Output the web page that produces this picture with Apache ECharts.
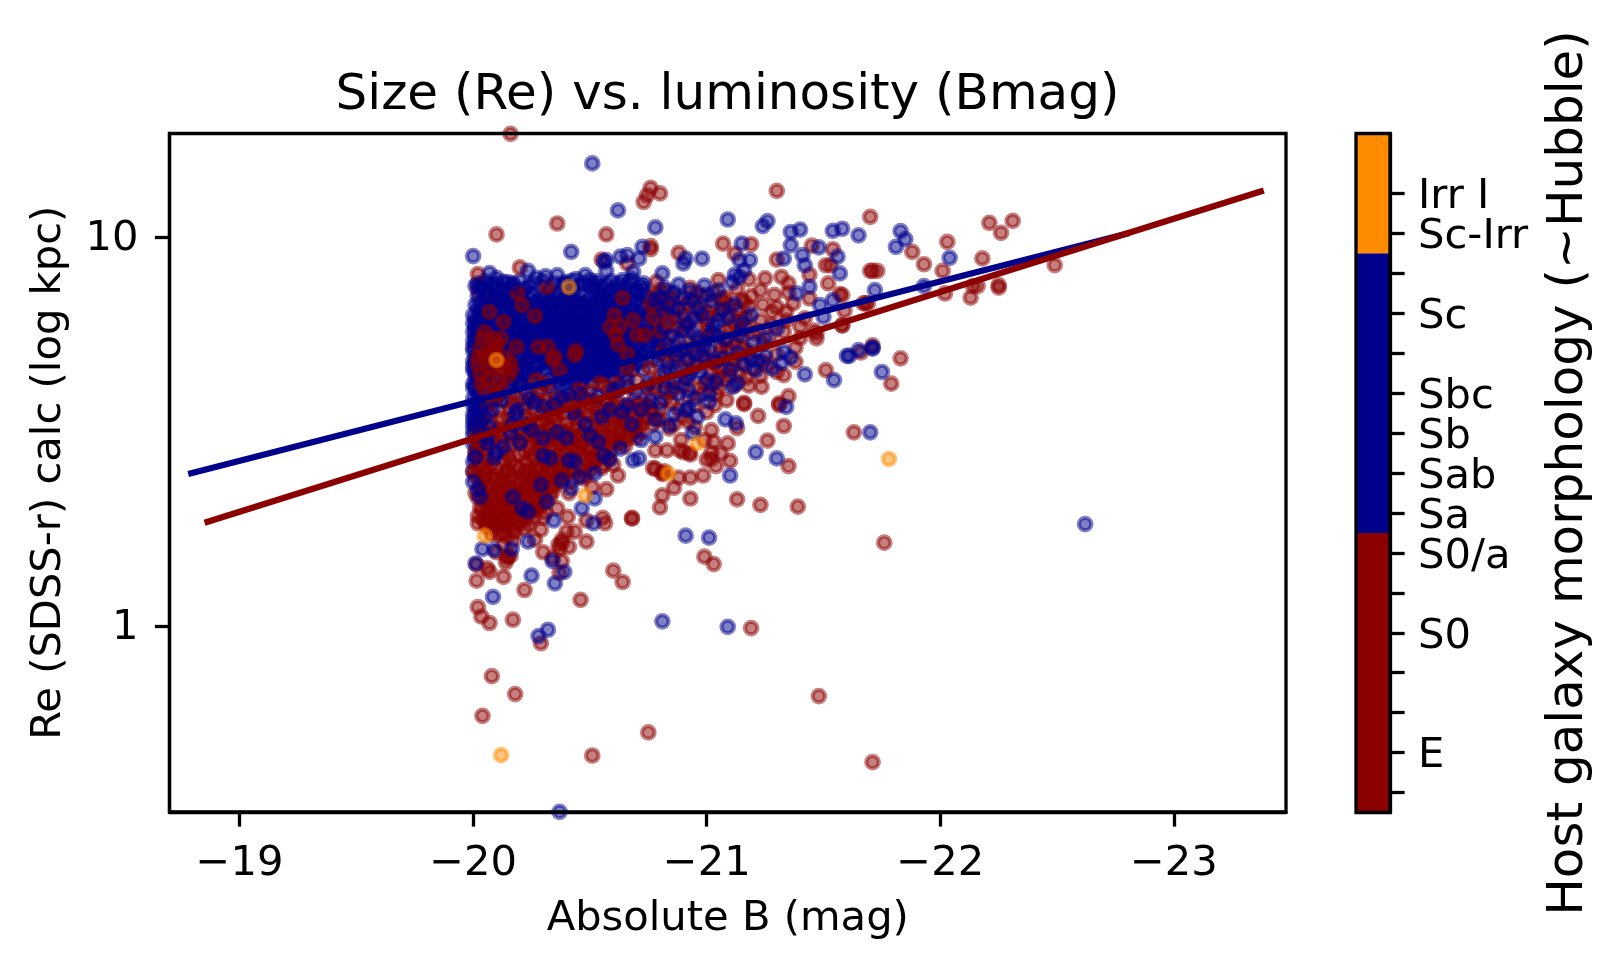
<!DOCTYPE html>
<html><head><meta charset="utf-8">
<style>html,body{margin:0;padding:0;background:#fff}#c{width:1622px;height:968px}</style>
<script src="https://cdn.jsdelivr.net/npm/echarts@6/dist/echarts.min.js"></script>
</head><body><div id="c"></div>
<script>
// [absolute B mag, Re kpc]
const redBase=[[-20.02,7.3],[-20.1,6.9],[-20.2,7.2],[-20.3,6.7],[-20.42,6.9],[-20.55,6.6],[-20.05,6.2],[-20.16,6.0],[-20.28,5.9],[-20.38,5.6],[-20.5,5.9],[-20.62,5.5],[-20.04,5.3],[-20.12,5.1],[-20.24,4.9],[-20.44,4.7],[-20.58,4.8],[-20.68,4.9],[-20.02,4.4],[-20.09,4.3],[-20.2,4.2],[-20.33,4.1],[-20.47,4.2],[-20.6,4.3]];
const blueCore=[[-20.03,7.4],[-20.08,7.55],[-20.12,7.3],[-20.17,7.5],[-20.22,7.35],[-20.26,7.6],[-20.33,7.4],[-20.39,7.55],[-20.43,7.3],[-20.47,7.6],[-20.55,7.45],[-20.6,7.35],[-20.66,7.5],[-20.7,7.3],
[-20.06,6.9],[-20.11,7.0],[-20.15,6.85],[-20.24,6.95],[-20.29,7.05],[-20.35,6.9],[-20.41,7.0],[-20.45,6.85],[-20.5,7.05],[-20.54,6.9],[-20.58,7.0],[-20.63,6.8],[-20.68,6.95],[-20.74,7.05],
[-20.02,6.5],[-20.09,6.6],[-20.13,6.4],[-20.18,6.55],[-20.23,6.45],[-20.27,6.6],[-20.32,6.42],[-20.37,6.58],[-20.41,6.4],[-20.46,6.55],[-20.51,6.42],[-20.56,6.6],[-20.6,6.45],[-20.65,6.55],[-20.71,6.4],[-20.76,6.5],
[-20.01,6.15],[-20.05,6.0],[-20.1,6.2],[-20.15,6.05],[-20.2,6.18],[-20.25,6.02],[-20.3,6.2],[-20.34,6.05],[-20.39,6.16],[-20.43,6.0],[-20.48,6.2],[-20.53,6.05],[-20.57,6.15],[-20.62,6.0],[-20.66,6.18],[-20.72,6.05],[-20.78,6.15],
[-20.02,5.7],[-20.07,5.8],[-20.12,5.65],[-20.17,5.78],[-20.22,5.62],[-20.27,5.8],[-20.31,5.68],[-20.36,5.82],[-20.4,5.65],[-20.45,5.78],[-20.49,5.62],[-20.54,5.8],[-20.59,5.66],[-20.64,5.78],[-20.69,5.62],[-20.75,5.75],[-20.8,5.6],
[-20.01,5.35],[-20.06,5.45],[-20.14,5.3],[-20.2,5.42],[-20.25,5.32],[-20.3,5.46],[-20.35,5.3],[-20.39,5.44],[-20.44,5.3],[-20.48,5.45],[-20.53,5.32],[-20.57,5.46],[-20.61,5.3],[-20.66,5.44],[-20.7,5.3],[-20.77,5.4],[-20.83,5.3],
[-20.02,5.0],[-20.08,5.12],[-20.14,5.0],[-20.21,5.08],[-20.26,4.96],[-20.31,5.1],[-20.37,5.0],[-20.41,5.12],[-20.46,4.98],[-20.5,5.1],[-20.54,4.96],[-20.59,5.08],[-20.63,4.95],[-20.67,5.1],[-20.72,4.98],[-20.78,5.05],
[-20.0,4.65],[-20.05,4.75],[-20.18,4.62],[-20.23,4.76],[-20.27,4.64],[-20.33,4.78],[-20.38,4.66],[-20.43,4.8],[-20.47,4.64],[-20.52,4.76],[-20.56,4.62],[-20.61,4.74],[-20.66,4.62],[-20.7,4.72],
[-20.01,4.35],[-20.06,4.45],[-20.13,4.32],[-20.19,4.46],[-20.24,4.36],[-20.29,4.48],[-20.35,4.34],[-20.39,4.46],[-20.45,4.36],[-20.5,4.48],[-20.54,4.38],
[-20.02,4.0],[-20.07,4.1],[-20.12,3.96],[-20.16,4.12],[-20.23,3.98],[-20.29,4.08],[-20.35,3.95],[-20.4,4.1],[-20.01,3.7],[-20.0,3.4],[-20.03,3.55],[-20.0,3.1],[-20.02,2.9],[-20.01,2.72],[-20.03,3.25],[-20.0,2.5],[-20.01,5.9],[-20.0,5.1],[-20.0,4.8],[-20.0,4.2],[-20.0,3.85]];
const blueCoreDense=[[-20.05,7.15],[-20.1,7.12],[-20.14,7.2],[-20.2,7.1],[-20.25,7.18],[-20.31,7.12],[-20.36,7.2],[-20.4,7.14],[-20.46,7.18],[-20.52,7.1],[-20.57,7.16],[-20.62,7.1],[-20.7,7.14],
[-20.03,6.75],[-20.08,6.72],[-20.13,6.78],[-20.18,6.7],[-20.22,6.76],[-20.27,6.8],[-20.33,6.72],[-20.38,6.78],[-20.43,6.7],[-20.48,6.75],[-20.52,6.8],[-20.56,6.72],[-20.61,6.76],[-20.66,6.7],[-20.72,6.76],
[-20.04,6.32],[-20.07,6.28],[-20.12,6.34],[-20.16,6.26],[-20.21,6.32],[-20.26,6.28],[-20.31,6.36],[-20.35,6.28],[-20.4,6.34],[-20.44,6.26],[-20.49,6.32],[-20.54,6.28],[-20.59,6.34],[-20.63,6.26],[-20.68,6.32],[-20.74,6.26],
[-20.03,5.88],[-20.08,5.94],[-20.13,5.9],[-20.18,5.86],[-20.23,5.92],[-20.28,5.88],[-20.32,5.94],[-20.37,5.86],[-20.42,5.9],[-20.46,5.96],[-20.51,5.86],[-20.55,5.92],[-20.6,5.86],[-20.65,5.94],[-20.7,5.86],[-20.77,5.9],
[-20.01,5.55],[-20.05,5.52],[-20.15,5.55],[-20.19,5.5],[-20.24,5.56],[-20.29,5.5],[-20.33,5.56],[-20.38,5.48],[-20.43,5.55],[-20.47,5.5],[-20.52,5.56],[-20.56,5.48],[-20.61,5.54],[-20.66,5.48],[-20.71,5.56],[-20.78,5.5],
[-20.03,5.2],[-20.08,5.25],[-20.12,5.18],[-20.17,5.22],[-20.22,5.16],[-20.27,5.22],[-20.32,5.16],[-20.36,5.22],[-20.41,5.16],[-20.46,5.22],[-20.51,5.18],[-20.55,5.24],[-20.6,5.16],[-20.65,5.22],[-20.7,5.16],
[-20.01,4.9],[-20.05,4.85],[-20.19,4.88],[-20.23,4.85],[-20.28,4.9],[-20.32,4.84],[-20.37,4.88],[-20.42,4.84],[-20.46,4.88],[-20.51,4.84],[-20.55,4.88],[-20.6,4.84],[-20.65,4.86],
[-20.03,4.55],[-20.16,4.52],[-20.21,4.58],[-20.26,4.52],[-20.31,4.58],[-20.36,4.54],[-20.41,4.58],[-20.45,4.52],[-20.5,4.58],[-20.55,4.52],[-20.6,4.56],
[-20.04,4.22],[-20.14,4.24],[-20.19,4.2],[-20.25,4.25],[-20.3,4.22],[-20.36,4.25],[-20.41,4.22],[-20.46,4.26],[-20.51,4.22],
[-20.3,6.5],[-20.34,6.65],[-20.38,6.45],[-20.42,6.62],[-20.44,6.12],[-20.4,5.95],[-20.36,6.12],[-20.32,5.75],[-20.36,5.62],[-20.41,5.78],[-20.44,5.6],[-20.47,5.7],[-20.5,5.52],[-20.42,5.42],[-20.38,5.26],[-20.43,5.2],[-20.47,5.08],[-20.44,4.95],[-20.4,4.92],[-20.38,4.78],[-20.42,4.7],[-20.46,4.74],[-20.48,4.9],[-20.52,5.0],[-20.5,5.28],[-20.54,5.14],[-20.56,5.4],[-20.52,5.66],[-20.48,6.02],[-20.53,6.5],[-20.49,6.65],[-20.44,6.8],[-20.36,7.0],[-20.3,6.9],[-20.26,6.7],[-20.24,6.22],[-20.28,6.08],[-20.26,5.68],[-20.24,5.44],[-20.28,5.32],[-20.26,5.06],[-20.3,4.98],[-20.28,4.68],[-20.35,4.56],[-20.4,4.38],[-20.44,4.52],[-20.48,4.4],
[-20.05,7.7],[-20.1,7.6],[-20.15,7.65],[-20.2,7.7],[-20.24,7.5],[-20.3,7.7],[-20.35,7.6],[-20.42,7.72],[-20.45,7.48],[-20.5,7.5],[-20.53,7.7],[-20.57,7.55],[-20.62,7.6],[-20.67,7.7],[-20.72,7.5],
[-20.22,6.62],[-20.25,6.35],[-20.29,6.55],[-20.33,6.25],[-20.37,6.38],[-20.41,6.22],[-20.45,6.45],[-20.47,6.12],[-20.51,6.25],[-20.54,6.15],[-20.57,6.42],[-20.5,6.58],[-20.46,6.7],[-20.39,6.85],[-20.33,6.82],[-20.22,6.1],[-20.26,5.95],[-20.3,5.82],[-20.34,5.96],[-20.38,5.72],[-20.42,5.56],[-20.46,5.85],[-20.5,5.72],[-20.53,5.6],[-20.56,5.72],[-20.58,5.95],[-20.22,5.72],[-20.26,5.55],[-20.3,5.6],[-20.34,5.44],[-20.38,5.38],[-20.41,5.32],[-20.46,5.36],[-20.49,5.4],[-20.53,5.44],[-20.58,5.3],[-20.23,5.25],[-20.29,5.15],[-20.33,5.06],[-20.36,5.12],[-20.39,5.02],[-20.43,5.06],[-20.45,4.9],[-20.49,5.02],[-20.53,4.9],[-20.57,5.02],[-20.31,4.8],[-20.35,4.72],[-20.39,4.7],[-20.44,4.62],[-20.48,4.7],[-20.5,4.82],[-20.54,4.7],[-20.59,4.66],[-20.42,4.45],[-20.47,4.5],[-20.52,4.42],[-20.56,4.42],[-20.38,4.32],[-20.43,4.28]];
const blueLeft=[[-20.02,7.6],[-20.06,7.3],[-20.1,7.4],[-20.15,7.35],[-20.19,7.3],[-20.02,7.05],[-20.07,7.1],[-20.12,6.95],[-20.17,7.0],[-20.21,6.9],[-20.01,6.7],[-20.05,6.62],[-20.1,6.78],[-20.15,6.62],[-20.19,6.8],[-20.03,6.4],[-20.08,6.45],[-20.14,6.5],[-20.19,6.42],[-20.02,6.05],[-20.06,6.12],[-20.11,6.08],[-20.17,6.15],[-20.21,6.02],[-20.01,5.78],[-20.05,5.85],[-20.09,5.72],[-20.14,5.78],[-20.19,5.7],[-20.03,5.62],[-20.08,5.58],[-20.13,5.62],[-20.17,5.6],[-20.21,5.55],[-20.0,5.42],[-20.04,5.4],[-20.09,5.38],[-20.16,5.4],[-20.2,5.3],[-20.0,5.22],[-20.06,5.15],[-20.11,5.05],[-20.16,5.1],[-20.19,5.18],[-20.03,4.98],[-20.07,4.95],[-20.16,4.95],[-20.2,4.95],[-20.01,4.75],[-20.06,4.62],[-20.17,4.75],[-20.22,4.68],[-20.01,4.5],[-20.07,4.52],[-20.18,4.35],[-20.23,4.5],[-20.03,4.3],[-20.08,4.2],[-20.15,4.15],[-20.21,4.3],[-20.01,4.1],[-20.05,3.92],[-20.1,3.86],[-20.18,3.95],[-20.02,3.85],[-20.06,3.78],[-20.02,3.62],[-20.0,3.5],[-20.03,3.42],[-20.01,3.3],[-20.0,3.2],[-20.02,3.05],[-20.0,2.95],[-20.01,2.82],[-20.0,2.65],[-20.0,6.0],[-20.0,6.3],[-20.0,5.7],[-20.0,4.55],[-20.0,4.1],[-20.0,3.7]];
const blueMidRight=[[-20.52,7.35],[-20.58,7.25],[-20.63,7.4],[-20.68,7.2],[-20.73,7.35],[-20.55,7.0],[-20.6,6.9],[-20.65,7.05],[-20.7,6.85],[-20.76,6.95],[-20.58,6.6],[-20.63,6.65],[-20.68,6.5],[-20.73,6.6],[-20.79,6.7],[-20.56,6.38],[-20.61,6.2],[-20.65,6.35],[-20.7,6.2],[-20.76,6.32],[-20.8,6.4],[-20.55,6.02],[-20.6,6.08],[-20.64,5.95],[-20.68,6.08],[-20.74,5.95],[-20.79,6.0],[-20.58,5.78],[-20.62,5.7],[-20.67,5.85],[-20.72,5.7],[-20.77,5.65],[-20.81,5.78],[-20.55,5.6],[-20.6,5.5],[-20.64,5.6],[-20.69,5.45],[-20.74,5.55],[-20.79,5.4],[-20.56,5.3],[-20.62,5.15],[-20.67,5.3],[-20.72,5.2],[-20.76,5.25],[-20.8,5.15],[-20.56,5.1],[-20.61,4.98],[-20.65,5.05],[-20.69,4.9],[-20.74,5.08],[-20.77,4.85],[-20.56,4.8],[-20.62,4.85],[-20.67,4.78],[-20.72,4.8],[-20.58,4.55],[-20.63,4.5],[-20.68,4.55],[-20.73,4.55],[-20.6,4.38],[-20.65,4.4]];
const redMain=[[-20.0,2.5],[-20.03,2.4],[-20.07,2.52],[-20.1,2.35],[-20.14,2.48],[-20.18,2.36],[-20.22,2.5],[-20.01,2.2],[-20.05,2.26],[-20.08,2.12],[-20.12,2.24],[-20.15,2.1],[-20.19,2.22],[-20.23,2.08],[-20.26,2.2],[-20.29,2.35],[-20.03,2.02],[-20.07,1.94],[-20.11,2.04],[-20.14,1.92],[-20.18,2.0],[-20.21,1.9],[-20.25,1.98],[-20.28,2.04],[-20.05,1.84],[-20.09,1.78],[-20.13,1.86],[-20.17,1.76],[-20.2,1.84],[-20.02,1.92],[-20.24,1.82],[-20.11,1.72],[-20.06,2.3],[-20.1,2.2],[-20.16,2.28],[-20.13,2.0],[-20.08,2.0],
[-20.01,3.0],[-20.05,2.85],[-20.09,3.02],[-20.14,2.82],[-20.18,3.05],[-20.22,2.8],[-20.27,3.02],[-20.31,2.78],[-20.35,3.0],[-20.39,2.8],[-20.44,3.02],[-20.48,2.82],[-20.52,3.05],[-20.56,2.85],[-20.6,3.05],[-20.65,2.9],[-20.03,2.65],[-20.08,2.6],[-20.13,2.68],[-20.18,2.58],[-20.23,2.66],[-20.27,2.56],[-20.32,2.62],[-20.36,2.56],[-20.4,2.62],[-20.45,2.58],[-20.5,2.62],[-20.55,2.55],[-20.6,2.6],[-20.35,2.3],[-20.41,2.2],[-20.47,2.4],[-20.33,2.15],[-20.39,2.42],
[-20.04,3.35],[-20.1,3.22],[-20.15,3.38],[-20.2,3.2],[-20.25,3.36],[-20.3,3.2],[-20.35,3.38],[-20.41,3.22],[-20.46,3.4],[-20.5,3.25],[-20.55,3.4],[-20.6,3.25],[-20.64,3.4],[-20.69,3.25],[-20.73,3.45],[-20.06,3.7],[-20.11,3.58],[-20.17,3.75],[-20.22,3.6],[-20.27,3.78],[-20.33,3.62],[-20.38,3.8],[-20.43,3.65],[-20.48,3.82],[-20.53,3.65],[-20.58,3.85],[-20.64,3.68],[-20.69,3.85],[-20.74,3.68],[-20.5,4.0],[-20.56,4.15],[-20.6,3.95],[-20.45,4.05],
[-20.62,2.44],[-20.68,1.89],[-20.77,2.55],[-20.57,2.25],[-20.51,2.28],[-20.565,1.84],[-20.555,1.9],[-20.485,1.65],[-20.41,1.6],[-20.435,1.75],[-20.4,1.75],[-20.405,1.91],[-20.485,1.87],[-20.36,2.01],[-20.3,1.9],[-20.29,1.77],[-20.265,1.67],[-20.365,1.62],[-20.38,1.67],[-20.15,1.51],[-20.145,1.7],[-20.02,1.84],[-20.06,1.41],[-20.37,1.58],[-20.38,1.64],[-20.3,1.55],[-20.34,1.5],[-20.13,1.62],[-20.1,1.55],[-20.17,1.66],[-20.14,1.46],[-20.16,1.52],
[-20.08,0.745],[-20.18,0.67],[-20.04,0.589],[-20.51,0.466],[-20.17,1.04],[-20.07,1.02],[-20.035,1.06],[-20.02,1.12],[-20.29,0.905],[-20.22,1.24],[-20.46,1.17],[-20.6,1.39],[-20.64,1.3],[-20.015,1.31],[-20.07,1.38],[-20.13,1.34],[-20.68,1.9],[-20.015,1.44],[-20.38,1.47],[-20.37,1.37],[-20.145,1.5],[-21.48,0.662],[-20.75,0.534],[-21.71,0.448],[-21.19,0.99],[-21.76,1.64],[-21.63,3.15],
[-21.22,3.47],[-21.33,3.27],[-21.26,3.0],[-21.35,2.58],[-21.13,2.12],[-21.23,2.05],[-21.39,2.03],[-20.93,2.13],[-20.81,2.17],[-20.8,2.02],[-20.99,1.51],[-21.03,1.445],[-21.13,3.23],[-21.09,2.95],[-21.1,2.66],[-21.04,2.58],[-20.985,2.44],[-20.93,2.41],[-20.88,2.41],[-20.86,2.27],[-20.81,2.48],[-20.78,2.54],[-21.02,3.19],[-20.99,3.01],[-21.03,2.98],[-21.06,2.78],[-21.02,2.79],[-21.0,2.68],[-21.02,2.69],[-20.925,2.79],[-20.89,3.01],[-20.885,2.83],[-20.83,2.83],[-20.78,2.83],[-20.84,3.22],[-20.92,3.35],[-21.16,3.72],[-21.035,3.7],[-21.085,3.81],[-21.31,3.7],[-20.81,2.46],[-20.82,2.5],[-20.9,2.8],[-20.93,2.76],
[-21.07,9.62],[-21.19,9.58],[-20.88,9.1],[-21.12,9.07],[-21.3,8.75],[-21.52,7.6],[-21.44,8.0],[-21.51,8.46],[-21.53,8.46],[-21.54,9.3],[-21.45,9.5],[-21.57,7.13],[-21.44,6.95],[-21.32,7.9],[-21.35,7.6],[-21.25,7.83],[-21.18,7.78],[-21.05,7.75],[-20.785,7.67],[-20.8,7.3],[-21.16,6.81],[-21.28,6.42],[-21.34,6.42],[-21.42,6.18],[-21.47,5.49],[-21.47,5.65],[-21.58,5.93],[-21.38,4.78],[-21.33,4.42],[-21.3,4.5],[-21.235,4.12],[-21.51,4.55],[-21.35,3.9],[-21.31,3.74],[-21.16,3.75],[-21.05,4.08],
[-21.7,11.26],[-22.03,9.71],[-21.88,9.16],[-21.93,8.51],[-22.01,8.18],[-22.18,8.81],[-22.21,10.87],[-22.26,10.25],[-22.31,11.0],[-22.49,8.47],[-22.13,6.99],[-22.14,7.48],[-22.16,7.48],[-22.25,7.52],[-22.25,7.41],[-22.02,7.16],[-21.71,8.18],[-21.73,8.18],[-21.7,8.18],[-21.68,6.75],[-21.67,6.75],[-21.69,6.75],[-21.59,6.46],[-21.58,5.93],[-21.58,7.09],[-21.83,4.88],[-21.79,4.2],[-21.66,5.05],[-21.71,5.27],
[-20.16,18.4],[-20.1,10.15],[-20.36,10.83],[-20.57,10.15],[-20.76,13.37],[-20.745,12.8],[-20.73,12.3],[-20.8,12.94],[-21.3,13.14],[-20.76,9.47],[-20.76,9.3],[-20.55,8.75],[-20.66,8.55],[-20.2,8.35],[-20.02,8.03],
[-20.83,6.6],[-20.9,6.3],[-20.95,6.8],[-21.0,6.15],[-21.06,6.45],[-21.1,5.85],[-21.17,6.2],[-21.22,5.75],[-21.24,5.3],[-20.87,5.85],[-20.94,5.25],[-21.0,5.55],[-21.06,5.2],[-21.12,5.3],[-21.18,5.1],[-20.81,5.0],[-20.86,4.8],[-20.93,4.65],[-20.99,4.8],[-21.05,4.62],[-21.11,4.65],[-21.17,4.35],[-21.23,4.4],[-20.8,4.4],[-20.84,4.25],[-20.9,4.15],[-20.97,4.1],[-21.04,3.95],[-21.1,4.4],[-20.76,3.95],[-20.8,3.6],[-20.85,3.75],[-20.9,3.45],[-20.76,3.55],[-20.72,3.3],[-20.66,3.15],[-20.62,3.4],[-20.7,3.05]];
const redLowerDense=[[-20.02,3.15],[-20.06,3.12],[-20.11,3.16],[-20.16,3.1],[-20.21,3.14],[-20.26,3.1],[-20.3,3.14],[-20.34,3.1],[-20.39,3.15],[-20.43,3.1],[-20.47,3.14],[-20.51,3.1],[-20.55,3.15],[-20.59,3.1],[-20.63,3.15],[-20.67,3.1],
[-20.03,2.95],[-20.07,2.92],[-20.12,2.96],[-20.16,2.92],[-20.2,2.95],[-20.24,2.9],[-20.29,2.94],[-20.33,2.9],[-20.37,2.94],[-20.42,2.9],[-20.46,2.94],[-20.5,2.9],[-20.54,2.95],[-20.58,2.9],[-20.63,2.95],
[-20.01,2.78],[-20.06,2.74],[-20.1,2.78],[-20.15,2.74],[-20.2,2.76],[-20.25,2.74],[-20.29,2.78],[-20.33,2.72],[-20.37,2.76],[-20.42,2.72],[-20.46,2.76],[-20.51,2.72],[-20.55,2.76],
[-20.02,2.56],[-20.05,2.5],[-20.1,2.55],[-20.15,2.52],[-20.2,2.56],[-20.24,2.52],[-20.29,2.54],[-20.34,2.5],[-20.38,2.54],[-20.43,2.5],[-20.48,2.52],
[-20.01,2.42],[-20.05,2.38],[-20.08,2.42],[-20.12,2.38],[-20.16,2.42],[-20.2,2.38],[-20.24,2.42],[-20.27,2.38],[-20.31,2.42],[-20.36,2.4],
[-20.03,2.3],[-20.08,2.28],[-20.12,2.3],[-20.15,2.26],[-20.19,2.3],[-20.22,2.26],[-20.25,2.3],[-20.29,2.24],[-20.33,2.28],
[-20.02,2.14],[-20.05,2.1],[-20.09,2.16],[-20.13,2.12],[-20.17,2.16],[-20.2,2.12],[-20.24,2.16],[-20.27,2.1],[-20.31,2.14],
[-20.04,2.0],[-20.06,2.05],[-20.1,1.98],[-20.12,2.06],[-20.16,2.0],[-20.19,2.06],[-20.22,2.0],[-20.26,2.04],
[-20.04,1.9],[-20.08,1.88],[-20.11,1.92],[-20.15,1.88],[-20.18,1.92],[-20.22,1.88],[-20.26,1.9],
[-20.06,1.8],[-20.1,1.82],[-20.14,1.8],[-20.18,1.82],[-20.22,1.78],
[-20.07,3.52],[-20.12,3.42],[-20.18,3.48],[-20.23,3.42],[-20.29,3.5],[-20.34,3.44],[-20.39,3.52],[-20.44,3.44],[-20.49,3.52],[-20.53,3.44],[-20.58,3.52],[-20.63,3.46],[-20.68,3.52],[-20.74,3.42],[-20.79,3.38],
[-20.08,3.85],[-20.14,3.8],[-20.2,3.85],[-20.25,3.88],[-20.31,3.8],[-20.36,3.86],[-20.42,3.8],[-20.47,3.9],[-20.52,3.8],[-20.57,3.72],[-20.62,3.78],[-20.67,3.6],[-20.71,3.72],
[-20.54,4.2],[-20.58,4.05],[-20.62,4.2],[-20.66,4.12],[-20.7,4.28],[-20.74,4.1],[-20.78,4.25],[-20.82,4.0],[-20.86,4.1],[-20.92,3.9],[-20.98,3.95],[-21.02,4.2],[-21.08,4.3],
[-20.04,3.06],[-20.12,3.08],[-20.2,3.02],[-20.28,3.08],[-20.37,3.06],[-20.46,3.08],[-20.55,3.05],[-20.62,3.02],[-20.06,2.68],[-20.16,2.64],[-20.26,2.68],[-20.34,2.66],[-20.43,2.68],[-20.52,2.66],[-20.58,2.7],[-20.05,2.46],[-20.13,2.45],[-20.22,2.44],[-20.3,2.46],[-20.4,2.46],[-20.04,2.2],[-20.11,2.12],[-20.17,2.24],[-20.22,2.18],[-20.28,2.26],[-20.06,1.96],[-20.14,1.96],[-20.2,1.96],[-20.24,1.95],[-20.12,1.84],[-20.16,1.84],[-20.08,1.84],[-20.32,3.3],[-20.4,3.32],[-20.24,3.28],[-20.16,3.3],[-20.08,3.3],[-20.48,3.3],[-20.56,3.3],[-20.65,3.3],[-20.16,3.62],[-20.26,3.64],[-20.36,3.62],[-20.46,3.6],[-20.56,3.6],[-20.1,3.94],[-20.28,3.95],[-20.44,3.92],
[-20.24,3.22],[-20.33,3.25],[-20.38,3.18],[-20.44,3.2],[-20.52,3.18],[-20.58,3.2],[-20.63,3.22],[-20.7,3.18],[-20.26,2.98],[-20.31,3.0],[-20.41,2.98],[-20.47,2.98],[-20.53,2.98],[-20.6,2.98],[-20.66,3.02],[-20.28,2.84],[-20.35,2.85],[-20.4,2.85],[-20.45,2.86],[-20.5,2.84],[-20.59,2.82],[-20.3,2.7],[-20.36,2.66],[-20.41,2.66],[-20.48,2.7],[-20.53,2.68],[-20.28,2.5],[-20.32,2.52],[-20.37,2.48],[-20.42,2.54],[-20.5,2.5],[-20.56,2.6],[-20.25,2.34],[-20.3,2.32],[-20.36,2.34],[-20.42,2.36],[-20.48,2.44],[-20.3,2.2],[-20.34,2.22],[-20.24,2.24],[-20.27,2.0],[-20.3,2.06],[-20.31,1.96],[-20.18,1.74],[-20.13,1.74],[-20.08,1.72],[-20.22,3.7],[-20.31,3.7],[-20.41,3.72],[-20.5,3.7],[-20.6,3.68],[-20.68,3.68],[-20.76,3.62],[-20.29,3.36],[-20.36,3.5],[-20.44,3.55],[-20.52,3.5],[-20.6,3.45],[-20.7,3.4],[-20.77,3.3]];
const redRight=[[-20.78,7.1],[-20.83,7.25],[-20.88,7.0],[-20.93,7.4],[-20.98,7.05],[-21.03,7.2],[-21.08,7.0],[-21.13,7.35],[-21.19,7.05],[-21.23,7.3],[-21.29,7.1],[-21.35,7.2],[-20.76,6.7],[-20.81,6.85],[-20.86,6.55],[-20.92,6.75],[-20.97,6.45],[-21.02,6.65],[-21.08,6.8],[-21.13,6.5],[-21.18,6.62],[-21.24,6.7],[-21.3,6.6],[-21.37,6.75],[-20.77,6.2],[-20.83,6.3],[-20.88,6.05],[-20.95,6.15],[-21.0,5.95],[-21.05,6.3],[-21.12,6.05],[-21.17,5.85],[-21.23,6.1],[-21.28,5.95],[-21.34,6.1],[-21.4,5.9],[-20.8,5.75],[-20.86,5.55],[-20.92,5.7],[-20.97,5.4],[-21.03,5.6],[-21.09,5.4],[-21.15,5.5],[-21.2,5.65],[-21.27,5.5],[-21.33,5.7],[-21.4,5.5],[-21.46,5.75],[-20.82,5.15],[-20.88,4.95],[-20.94,5.1],[-21.0,4.9],[-21.06,5.05],[-21.12,4.85],[-21.18,5.0],[-21.24,4.8],[-21.3,5.0],[-21.38,5.2],[-20.83,4.75],[-20.9,4.55],[-20.96,4.65],[-21.02,4.45],[-21.08,4.6],[-21.14,4.45],[-21.2,4.6],[-21.26,4.7],[-20.78,4.1],[-20.85,4.0],[-20.92,4.3],[-20.99,4.2],[-21.05,4.35],[-21.12,4.15],[-21.18,4.15],[-20.82,3.82],[-20.88,3.62],[-20.95,3.7],[-21.0,3.55],[-20.74,3.7],[-20.8,3.42],[-20.86,3.3],[-20.95,3.25],[-20.72,3.15],
[-20.85,6.95],[-20.96,7.2],[-21.06,6.95],[-21.1,6.65],[-21.15,6.9],[-20.9,6.55],[-21.0,6.4],[-21.1,6.3],[-21.15,6.15],[-20.91,5.9],[-21.0,5.75],[-21.08,5.75],[-21.14,5.75],[-20.9,5.2],[-20.99,5.2],[-21.09,5.15],[-21.15,5.2],[-20.92,4.85],[-21.03,4.75],[-21.15,4.75]];
const blueRight=[[-20.78,6.9],[-20.84,6.7],[-20.9,6.95],[-20.96,6.6],[-21.02,6.85],[-21.07,6.5],[-21.12,6.7],[-20.82,7.4],[-20.88,7.55],[-20.93,7.25],[-20.99,7.5],[-21.05,7.3],[-21.11,7.65],[-21.14,7.9],[-21.16,8.2],[-21.12,8.0],[-20.86,6.2],[-20.92,6.0],[-20.98,6.3],[-21.03,5.95],[-21.09,6.2],[-21.15,6.0],[-21.19,6.3],[-20.85,5.6],[-20.9,5.75],[-20.96,5.5],[-21.02,5.7],[-21.08,5.45],[-21.14,5.6],[-21.2,5.35],[-20.89,5.1],[-20.95,5.0],[-21.01,5.15],[-21.07,4.9],[-21.13,5.05],[-21.19,4.85],[-21.25,4.95],[-21.28,4.6],[-21.21,4.55],[-21.16,4.7],[-21.32,4.75],[-21.36,4.9],[-20.84,4.6],[-20.91,4.35],[-20.97,4.5],[-21.04,4.25],[-20.82,4.1],[-20.88,3.95],[-20.95,3.85],[-20.8,3.75],[-20.86,3.5],[-20.96,3.45],[-20.78,3.4],[-20.84,3.28],[-20.7,4.0],[-20.75,4.2],[-20.66,4.3],[-20.62,4.05],[-20.72,3.6],[-20.76,3.8],
[-20.8,7.0],[-20.86,7.2],[-20.94,6.9],[-21.0,7.1],[-20.82,6.4],[-20.88,6.55],[-20.94,6.2],[-21.05,6.1],[-20.82,5.85],[-20.88,5.4],[-20.94,5.7],[-20.99,5.35],[-21.05,5.55],[-20.83,5.15],[-20.87,4.95],[-20.92,4.85],[-20.98,4.95],[-21.04,4.8],[-20.79,4.8],[-20.82,4.5],[-20.87,4.55],[-20.93,4.45],[-20.86,4.25],[-20.92,4.05],[-21.0,4.3],[-21.1,4.55],[-21.22,4.8]];
const blueSpots=[[-20.03,3.66],[-20.18,3.53],[-20.3,3.66],[-20.2,2.96],[-20.43,3.53],[-20.585,3.6],[-20.09,2.71],[-20.01,2.72],[-20.13,2.89],[-20.41,2.67],[-20.515,1.84],[-20.345,1.87],[-20.465,2.01],[-20.52,2.13],[-20.42,2.26],[-20.38,2.37],[-20.29,2.31],[-20.315,2.09],[-20.21,2.01],[-20.235,1.97],[-20.235,1.65],[-20.09,1.57],[-20.04,1.58],[-20.165,1.58],[-20.03,2.15],[-20.17,2.15],[-20.52,2.47],[-20.455,2.42],[-20.435,2.65],[-20.585,2.68],[-20.685,2.67],[-20.71,2.7],[-20.72,3.01],[-20.63,2.86],[-20.535,2.98],[-20.25,3.2],[-20.36,3.15],[-20.07,3.25],[-20.17,3.3],[-20.48,3.3],[-20.55,3.45],[-20.64,3.55],[-20.12,3.8],[-20.24,3.85],[-20.38,3.9],[-20.46,3.95],[-20.53,3.9],[-20.6,4.05],[-20.3,2.75],[-20.56,2.75],[-20.03,3.15],[-20.06,2.95],[-20.0,2.35],[-20.02,2.25],[-20.0,3.3],[-20.01,3.55],[-20.3,3.05],[-20.66,3.7],[-20.68,3.3],[-20.5,3.1],
[-20.08,3.6],[-20.19,3.6],[-20.02,3.4],[-20.05,3.45],[-20.26,3.75],[-20.41,3.95],[-20.35,3.72],[-20.22,3.3],[-20.06,3.05],[-20.1,2.8],[-20.16,3.15],[-20.4,3.05],[-20.33,2.7]];
const redPatch=[[-20.315,7.45],[-20.21,6.68],[-20.265,6.26],[-20.19,7.18],[-20.605,6.3],[-20.64,6.97],[-20.735,5.6],[-20.28,5.22],[-20.32,5.22],[-20.35,4.92],[-20.435,4.97],[-20.37,4.55],[-20.085,5.49],[-20.165,4.55],[-20.185,5.22],[-20.03,5.17],[-20.13,6.05],[-20.07,6.42],[-20.035,4.2],[-20.27,4.29],[-20.755,4.6],[-20.585,5.87],[-20.685,6.12],[-20.835,6.05],[-20.05,5.7],[-20.1,5.2],[-20.12,5.5],[-20.06,4.9],[-20.09,4.6],[-20.14,4.9],[-20.11,4.25],[-20.05,4.05],[-20.15,4.4],[-20.02,4.7],[-20.62,5.3],[-20.61,5.6],[-20.63,5.9],[-20.66,5.0],[-20.31,4.2],[-20.34,4.85],[-20.44,5.1],[-20.66,4.6],[-20.7,5.6],[-20.09,5.0],[-20.11,4.75],[-20.13,4.55],[-20.07,4.6],[-20.1,5.35],[-20.05,5.0],[-20.03,4.45],[-20.12,4.1],[-20.16,4.75],[-20.04,5.5],[-20.08,5.1],[-20.02,4.9],[-20.13,4.7],[-20.06,4.3],[-20.1,3.95]];
const blueEdge=[[-20.01,7.5],[-20.07,8.08],[-20.13,7.67],[-20.235,8.18],[-20.31,7.93],[-20.36,7.98],[-20.48,7.98],[-20.52,7.6],[-20.57,8.18],[-20.64,7.75],[-20.73,7.6],[-20.685,8.13],[-20.0,8.93],[-20.42,9.16],[-20.725,9.43],[-20.57,8.72],[-20.63,8.9],[-20.66,8.98],[-20.71,8.8],[-20.56,8.63],[-20.04,7.55],[-20.1,7.85],[-20.17,7.6],[-20.27,7.85],[-20.39,7.65],[-20.44,7.8],[-20.5,7.75],[-20.59,7.7],[-20.68,7.8],
[-20.51,15.45],[-20.62,11.7],[-20.78,10.58],[-21.09,11.09],[-21.26,10.98],[-21.24,10.66],[-21.36,10.3],[-21.4,10.45],[-21.54,10.37],[-21.58,10.5],[-21.65,10.1],[-21.83,10.35],[-21.85,9.87],[-21.81,9.43],[-22.04,8.84],[-21.72,7.3],[-21.93,7.48],[-21.71,5.17],[-21.71,5.2],[-21.61,4.95],[-21.65,5.12],[-21.75,4.5],[-21.36,9.53],[-21.48,9.4],[-21.56,8.9],[-21.57,8.06],[-21.42,8.46],[-21.41,8.98],[-21.33,8.8],[-21.185,8.72],[-21.14,8.72],[-20.98,8.8],[-20.91,8.8],[-20.9,8.55],[-20.81,8.06],[-21.15,9.62],
[-21.385,7.16],[-21.44,7.45],[-21.485,6.68],[-21.54,6.88],[-21.5,6.24],[-21.6,4.95],[-21.42,4.44],[-21.545,4.29],[-21.25,5.49],[-21.33,5.07],[-21.3,5.82],[-21.13,4.22],[-21.11,4.12],[-21.01,3.96],[-20.92,3.63],
[-20.91,1.71],[-21.01,1.69],[-21.21,2.8],[-21.3,2.7],[-21.1,2.44],[-21.08,3.4],[-21.125,3.32],[-20.94,3.14],[-20.78,3.07],[-20.91,3.59],[-21.34,3.66],[-21.01,3.77],[-21.7,3.15],
[-22.62,1.83],[-21.09,0.997],[-20.81,1.03],[-20.37,0.334],[-20.32,0.98],[-20.28,0.944],[-20.085,1.19],[-20.25,1.35],[-20.35,1.29],[-20.39,1.38],[-20.34,1.47],[-20.01,1.45]];
const orangePts=[[-20.41,7.43],[-20.1,4.83],[-20.96,2.95],[-20.835,2.47],[-21.78,2.69],[-20.12,0.467],[-20.05,1.71],[-20.48,2.17]];
const blueFit=[[-18.78,2.463],[-22.81,10.24]];
const redFit=[[-18.85,1.845],[-23.385,13.16]];
const xTicks=[-19,-20,-21,-22,-23];
const yTicks=[1,10];
const hubbleTypes=[-5,-2,0,1,2,3,4,6,8,9];
const hubbleNames=['E','S0','S0/a','Sa','Sab','Sb','Sbc','Sc','Sc-Irr','Irr I'];
const hubbleTicks=[-6,-5,-4,-3,-2,-1,0,1,2,3,4,5,6,7,8,9,10];
const colorBands=[[-6.5,0.5,'#8b0000'],[0.5,7.5,'#00008b'],[7.5,10.5,'#ff8c00']];

const FONT='DejaVu Sans';
const RED='rgba(139,0,0,0.5)',BLUE='rgba(0,0,139,0.5)',ORG='rgba(255,140,0,0.5)';
function pts(data,col,z){return {type:'scatter',data:data,symbolSize:12.5,xAxisIndex:0,yAxisIndex:0,z:z,silent:true,clip:true,
 itemStyle:{color:col,borderColor:col,borderWidth:4.2,opacity:1},animation:false,large:false};}
function fit(data,col,z){return {type:'line',data:data,xAxisIndex:0,yAxisIndex:0,z:z,symbol:'none',silent:true,clip:true,
 lineStyle:{color:col,width:6.25,cap:'butt'},animation:false};}
const AXL={show:true,onZero:false,lineStyle:{color:'#000',width:3.3}};
const TICK=v=>({show:true,length:14.6,lineStyle:{color:'#000',width:3.3},customValues:v});
const chart=echarts.init(document.getElementById('c'),null,{renderer:'canvas'});
chart.setOption({
 animation:false,backgroundColor:'#fff',
 title:{text:'Size (Re) vs. luminosity (Bmag)',left:722.5,top:91,textAlign:'center',textVerticalAlign:'middle',
  textStyle:{fontFamily:FONT,fontSize:50,fontWeight:'normal',color:'#000'}},
 grid:[{left:169.5,top:133.5,width:1116.5,height:678.5,show:true,borderColor:'#000',borderWidth:3.3,backgroundColor:'transparent',z:20},
       {left:1356,top:133.5,width:34,height:679,show:true,borderColor:'#000',borderWidth:3.3,backgroundColor:'transparent',z:20}],
 xAxis:[{type:'value',gridIndex:0,inverse:true,min:-23.48,max:-18.70,splitLine:{show:false},axisLine:AXL,
   axisTick:TICK(xTicks),
   axisLabel:{fontFamily:FONT,fontSize:41.67,color:'#000',margin:31,customValues:xTicks,formatter:v=>String(v).replace('-','\u2212')},
   name:'Absolute B (mag)',nameLocation:'middle',nameGap:86,nameTextStyle:{fontFamily:FONT,fontSize:41.67,color:'#000'}},
  {type:'value',gridIndex:1,min:0,max:1,show:false}],
 yAxis:[{type:'log',gridIndex:0,logBase:10,min:0.3336,max:18.44,splitLine:{show:false},axisLine:AXL,minorTick:{show:false},
   axisTick:TICK(yTicks),
   axisLabel:{fontFamily:FONT,fontSize:41.67,color:'#000',margin:31,verticalAlign:'top',lineHeight:4,customValues:yTicks,formatter:v=>String(Math.round(v))},
   name:'Re (SDSS-r) calc (log kpc)',nameLocation:'middle',nameGap:99,nameRotate:90,nameTextStyle:{fontFamily:FONT,fontSize:41.67,color:'#000'}},
  {type:'value',gridIndex:1,position:'right',min:-6.5,max:10.5,splitLine:{show:false},axisLine:AXL,
   axisTick:TICK(hubbleTicks),
   axisLabel:{fontFamily:FONT,fontSize:41.67,color:'#000',margin:28,verticalAlign:'top',lineHeight:8,hideOverlap:false,customValues:[...hubbleTypes,10],formatter:v=>hubbleNames[hubbleTypes.indexOf(v)]||' '},
   name:'Host galaxy morphology (~Hubble)',nameLocation:'middle',nameGap:154,nameRotate:90,nameTextStyle:{fontFamily:FONT,fontSize:50,color:'#000'}}],
 series:[
  pts(redBase,RED,2),pts(blueCore,BLUE,3),pts(blueCoreDense,BLUE,3),pts(blueLeft,BLUE,3),pts(blueMidRight,BLUE,3),pts(redMain,RED,4),pts(redLowerDense,RED,4),pts(redRight,RED,4),pts(blueRight,BLUE,5),pts(blueSpots,BLUE,5),pts(redPatch,RED,6),pts(blueEdge,BLUE,7),pts(orangePts,ORG,8),
  fit(blueFit,'#00008b',9),fit(redFit,'#8b0000',10),
  {type:'custom',xAxisIndex:1,yAxisIndex:1,data:colorBands,silent:true,clip:true,z:1,
   renderItem:function(p,api){const a=api.coord([0,api.value(0)]),b=api.coord([1,api.value(1)]);
     return {type:'rect',shape:{x:a[0],y:b[1],width:b[0]-a[0],height:a[1]-b[1]},style:{fill:colorBands[p.dataIndex][2]}};},
   encode:{x:[],y:[0,1]}}
 ]
});
</script></body></html>
